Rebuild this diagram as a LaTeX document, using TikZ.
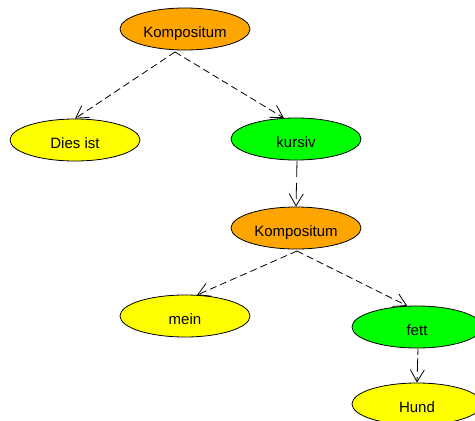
\documentclass[tikz,border=0pt]{standalone}
\usepackage{fontspec}
\setmainfont{Liberation Sans}
\usetikzlibrary{shapes.geometric,arrows.meta}
\definecolor{orangefill}{HTML}{FFA500}
\definecolor{greenfill}{HTML}{00FF00}
\definecolor{yellowfill}{HTML}{FFFF00}
\begin{document}
\begin{tikzpicture}[x=1pt,y=-1pt,
  treenode/.style={ellipse,draw=black,line width=0.8pt,minimum width=130pt,
    minimum height=42pt,inner sep=0pt,text height=16.5pt,text depth=0pt,
    font=\fontsize{15}{18}\selectfont},
  komp/.style={treenode,fill=orangefill},
  gruen/.style={treenode,fill=greenfill},
  gelb/.style={treenode,fill=yellowfill},
  link/.style={draw=black,line width=0.8pt,dash pattern=on 7pt off 4pt,
    -{Straight Barb[length=12pt,width=14pt,line width=0.8pt]}},
  downlink/.style={link,dash pattern=on 16pt off 6pt}]
  \useasboundingbox (0,0) rectangle (475,421);
  % nodes
  \node[komp]  (k1)     at (185,29)  {Kompositum};
  \node[gelb]  (dies)   at (75,140)  {Dies ist};
  \node[gruen] (kursiv) at (296,139) {kursiv};
  \node[komp]  (k2)     at (296,228) {Kompositum};
  \node[gelb]  (mein)   at (185,316) {mein};
  \node[gruen] (fett)   at (417,327) {fett};
  \node[gelb]  (hund)   at (417,404) {Hund};
  % edge tails
  \coordinate (k1out) at (175,52);
  \coordinate (kursivout) at (297,161);
  \coordinate (k2out) at (297,251);
  \coordinate (fettout) at (418,349);
  % edges
  \draw[link] (k1out) -- (dies.north);
  \draw[link] (k1out) -- (kursiv.120);
  \draw[downlink] (kursivout) -- (k2.north);
  \draw[link] (k2out) -- (mein.60);
  \draw[link] (k2out) -- (fett.115);
  \draw[downlink,dash pattern=on 6pt off 3pt on 14pt off 5pt] (fettout) -- (hund.north);
\end{tikzpicture}
\end{document}
